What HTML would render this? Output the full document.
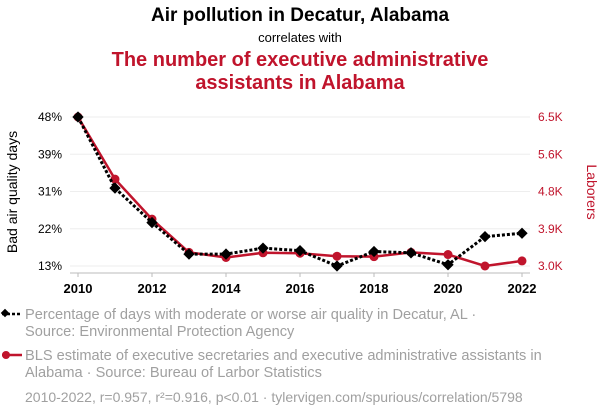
<!DOCTYPE html>
<html><head><meta charset="utf-8"><style>
body{margin:0;background:#fff;font-family:"Liberation Sans",sans-serif}
svg text{font-family:"Liberation Sans",sans-serif}
</style></head><body>
<svg width="600" height="414" xmlns="http://www.w3.org/2000/svg">
<text x="300" y="21" text-anchor="middle" font-size="19" font-weight="bold" fill="#000">Air pollution in Decatur, Alabama</text>
<text x="300" y="42" text-anchor="middle" font-size="13" fill="#000">correlates with</text>
<text x="300" y="66" text-anchor="middle" font-size="20" font-weight="bold" fill="#c0142c">The number of executive administrative</text>
<text x="300" y="89" text-anchor="middle" font-size="20" font-weight="bold" fill="#c0142c">assistants in Alabama</text>
<g id="grid"></g>
<g id="axes"></g>
<g id="series"></g>
<text transform="translate(17,192) rotate(-90)" text-anchor="middle" font-size="14" fill="#000">Bad air quality days</text>
<text transform="translate(587,192) rotate(90)" text-anchor="middle" font-size="14" fill="#c0142c">Laborers</text>
<g>
<line x1="2" y1="314" x2="22" y2="314" stroke="#000" stroke-width="2.5" stroke-dasharray="3,2"/>
<rect x="2" y="310" width="6" height="6" transform="rotate(45 5 313)" fill="#000"/>
<text x="25" y="319" font-size="14.6" fill="#a0a0a0">Percentage of days with moderate or worse air quality in Decatur, AL ·</text>
<text x="25" y="336" font-size="14.6" fill="#a0a0a0">Source: Environmental Protection Agency</text>
</g>
<g>
<line x1="2" y1="355" x2="22" y2="355" stroke="#c0142c" stroke-width="2.5"/>
<circle cx="6" cy="355" r="4" fill="#c0142c"/>
<text x="25" y="360" font-size="14.6" fill="#a0a0a0">BLS estimate of executive secretaries and executive administrative assistants in</text>
<text x="25" y="377" font-size="14.6" fill="#a0a0a0">Alabama · Source: Bureau of Larbor Statistics</text>
</g>
<text x="25" y="402" font-size="14" fill="#a0a0a0">2010-2022, r=0.957, r²=0.916, p&lt;0.01 · tylervigen.com/spurious/correlation/5798</text>
</svg>
<script>
const years=[2010,2011,2012,2013,2014,2015,2016,2017,2018,2019,2020,2021,2022];
const airValues=[48,31.3,23.2,15.8,15.8,17.2,16.6,13,16.4,16.1,13.3,19.9,20.7];
const laborValues=[6.5,5.04,4.10,3.32,3.20,3.31,3.30,3.23,3.22,3.32,3.27,3.0,3.12];
const leftTicks=[13,22,31,39,48];
const leftTickLabels=["13%","22%","31%","39%","48%"];
const rightTicks=[3.0,3.875,4.75,5.625,6.5];
const rightTickLabels=["3.0K","3.9K","4.8K","5.6K","6.5K"];
const xTicks=[2010,2012,2014,2016,2018,2020,2022];
const NS="http://www.w3.org/2000/svg";
const x=y=>78+(y-2010)*(444/12);
const yL=v=>266-(v-13)/(48-13)*149;
const yR=v=>266-(v-3.0)/(6.5-3.0)*149;
function mk(t,a,p){const e=document.createElementNS(NS,t);for(const k in a)e.setAttribute(k,a[k]);p.appendChild(e);return e;}
const grid=document.getElementById('grid'),axes=document.getElementById('axes'),ser=document.getElementById('series');
leftTicks.forEach((v,i)=>{
 const yy=266-i*149/4;
 const g=mk('line',{x1:70,x2:530,y1:yy,y2:yy,stroke:'#eeeeee','stroke-width':1},grid);
 
 
 const t=mk('text',{x:62,y:yy+4,'text-anchor':'end','font-size':12,fill:'#000'},axes);t.textContent=leftTickLabels[i];
 
 
});
rightTicks.forEach((v,i)=>{
 const yy=yR(v);
 const t=mk('text',{x:538,y:yy+4,'font-size':12,fill:'#c0142c'},axes);t.textContent=rightTickLabels[i];
 
 
});
const ax=mk('line',{x1:70,x2:530,y1:273,y2:273,stroke:'#bbb'},axes);


xTicks.forEach(yr=>{
 mk('line',{x1:x(yr),x2:x(yr),y1:273,y2:277,stroke:'#bbb'},axes);
 const t=mk('text',{x:x(yr),y:293,'text-anchor':'middle','font-size':13,'font-weight':'bold',fill:'#000'},axes);t.textContent=yr;
 
 
});
const rl=mk('polyline',{points:years.map((yr,i)=>x(yr)+','+yR(laborValues[i])).join(' '),fill:'none',stroke:'#c0142c','stroke-width':2.5},ser);


years.forEach((yr,i)=>{const c=mk('circle',{cx:x(yr),cy:yR(laborValues[i]),r:4.5,fill:'#c0142c'},ser);
 
 });
const bl=mk('polyline',{points:years.map((yr,i)=>x(yr)+','+yL(airValues[i])).join(' '),fill:'none',stroke:'#000','stroke-width':3,'stroke-dasharray':'3,2'},ser);


years.forEach((yr,i)=>{const cx=x(yr),cy=yL(airValues[i]);
 const d=mk('rect',{x:cx-4,y:cy-4,width:8,height:8,transform:`rotate(45 ${cx} ${cy})`,fill:'#000'},ser);
 
 });
</script>
</body></html>
